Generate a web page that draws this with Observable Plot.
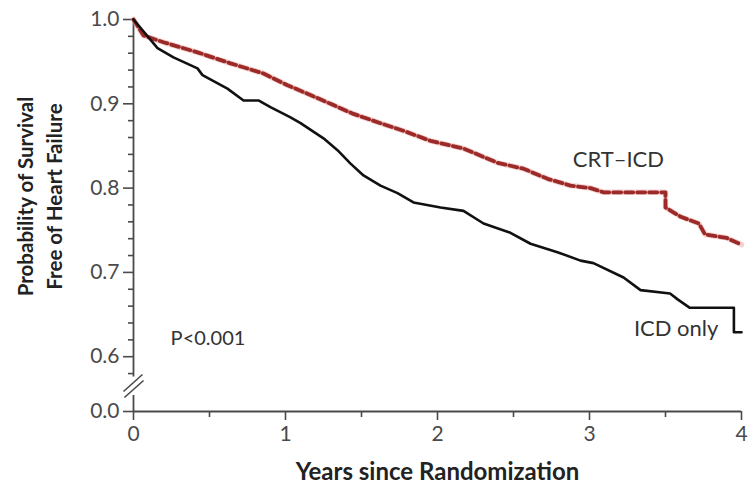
<!DOCTYPE html>
<html>
<head>
<meta charset="utf-8">
<script src="https://cdn.jsdelivr.net/npm/d3@7"></script>
<script src="https://cdn.jsdelivr.net/npm/@observablehq/plot@0.6"></script>
<style>
  html, body { margin: 0; padding: 0; background: #fff; }
  #chart { width: 748px; height: 492px; }
</style>
</head>
<body>
<div id="chart"></div>
<script>
// ---- Data ----
const yearsICD = [0, .158, .263, .421, .454, .618, .724, .822, .901, 1.033, 1.099, 1.25, 1.342, 1.428, 1.513, 1.625, 1.737, 1.842, 2.02, 2.171, 2.303, 2.48, 2.612, 2.789, 2.941, 3.026, 3.224, 3.336, 3.53, 3.58, 3.66, 3.95, 3.95, 4.0];
const survICD  = [1.0, .966, .955, .942, .934, .918, .904, .904, .896, .884, .877, .859, .845, .829, .815, .803, .794, .783, .777, .773, .758, .747, .734, .724, .714, .711, .694, .679, .675, .668, .658, .658, .629, .629];

const yearsCRT = [0, .066, .197, .421, .638, .855, 1.013, 1.145, 1.296, 1.447, 1.625, 1.776, 1.954, 2.171, 2.395, 2.566, 2.724, 2.875, 3.007, 3.092, 3.5, 3.5, 3.6, 3.72, 3.76, 3.9, 4.0];
const survCRT  = [1.0, .981, .973, .961, .948, .936, .922, .912, .900, .888, .877, .868, .856, .847, .830, .823, .811, .803, .800, .795, .795, .777, .766, .758, .745, .741, .733];

const xMajorTicks = [0, 1, 2, 3, 4];
const xMinorTicks = [0.5, 1.5, 2.5, 3.5];
const yMajorTicks = [0, 0.6, 0.7, 0.8, 0.9, 1.0];
const yMinorTicks = [0.58, 0.62, 0.64, 0.66, 0.68, 0.72, 0.74, 0.76, 0.78, 0.82, 0.84, 0.86, 0.88, 0.92, 0.94, 0.96, 0.98];

const seriesLabels = [
  {name: "CRT\u2013ICD", t: 3.19, v: 0.833},
  {name: "ICD only", t: 3.57, v: 0.633}
];
const pLabel = [{name: "P<0.001", t: 0.49, v: 0.621}];
const xTitle = "Years since Randomization";
const yTitle = "Probability of Survival\nFree of Heart Failure";

// broken y axis: values below the break are compressed into a short stub
const breakAt = 0.55;       // values >= this are drawn on the normal linear scale
const zeroDrawnAt = 0.535;  // 0.0 is drawn where 0.535 would be
const brokenAxis = v => v >= breakAt ? v : zeroDrawnAt + v * (breakAt - zeroDrawnAt) / breakAt;

// axis break marks (two slashes across the y axis)
const breakMarks = [
  {x1: -0.066, y1: 0.5587, x2: 0.059, y2: 0.5789},
  {x1: -0.060, y1: 0.5516, x2: 0.066, y2: 0.5718}
];

const icd = yearsICD.map((t, i) => ({t, v: survICD[i]}));
const crt = yearsCRT.map((t, i) => ({t, v: survCRT[i]}));

const font = "Lato, 'Open Sans', sans-serif";
const axisColor = "#4a4a4a";

const chart = Plot.plot({
  width: 748,
  height: 492,
  marginLeft: 133,
  marginRight: 7,
  marginTop: 19,
  marginBottom: 81,
  style: {fontFamily: font, fontSize: "21px", background: "#fff", color: axisColor, overflow: "visible"},
  x: {domain: [0, 4], axis: null},
  y: {transform: brokenAxis, axis: null},
  marks: [
    // axis lines
    Plot.ruleY([0], {x1: 0, x2: 4, stroke: axisColor, strokeWidth: 1.8}),
    Plot.ruleX([0], {y1: 0.576, y2: 1.0, stroke: axisColor, strokeWidth: 1.8}),
    Plot.ruleX([0], {y1: 0, y2: 0.554, stroke: axisColor, strokeWidth: 1.8}),
    Plot.link(breakMarks, {x1: "x1", y1: "y1", x2: "x2", y2: "y2", stroke: axisColor, strokeWidth: 1.6}),
    // x axis ticks
    Plot.axisX(xMajorTicks, {anchor: "bottom", tickSize: 9, tickPadding: 6, fontSize: 21, stroke: axisColor, fill: axisColor, strokeWidth: 1.6, label: null, tickFormat: d3.format("d")}),
    Plot.axisX(xMinorTicks, {anchor: "bottom", tickSize: 6, stroke: axisColor, strokeWidth: 1.6, label: null, tickFormat: () => ""}),
    // y axis ticks
    Plot.axisY(yMajorTicks, {anchor: "left", tickSize: 10, tickPadding: 4, fontSize: 21, stroke: axisColor, fill: axisColor, strokeWidth: 1.6, label: null, tickFormat: d3.format(".1f")}),
    Plot.axisY(yMinorTicks, {anchor: "left", tickSize: 5, stroke: axisColor, strokeWidth: 1.6, label: null, tickFormat: () => ""}),
    // titles
    Plot.text([xTitle], {frameAnchor: "bottom", dy: 68, fontWeight: "bold", fontSize: 24, fill: "#222", text: d => d}),
    Plot.text([yTitle], {frameAnchor: "left", textAnchor: "middle", dx: -95, dy: -19, rotate: -90, fontWeight: "bold", fontSize: 20.5, lineHeight: 1.42, fill: "#222", text: d => d}),
    // curves
    Plot.line(crt, {x: "t", y: "v", stroke: "#eab3ad", strokeWidth: 5.5, strokeOpacity: 0.6}),
    Plot.line(crt, {x: "t", y: "v", stroke: "#9c2a28", strokeWidth: 3.8, strokeDasharray: "8,4"}),
    Plot.line(icd, {x: "t", y: "v", stroke: "#111", strokeWidth: 2.6}),
    // annotations
    Plot.text(seriesLabels, {x: "t", y: "v", text: "name", fontSize: 22, fill: "#333"}),
    Plot.text(pLabel, {x: "t", y: "v", text: "name", fontSize: 20, fill: "#333"})
  ]
});
document.getElementById("chart").appendChild(chart);
</script>
</body>
</html>
